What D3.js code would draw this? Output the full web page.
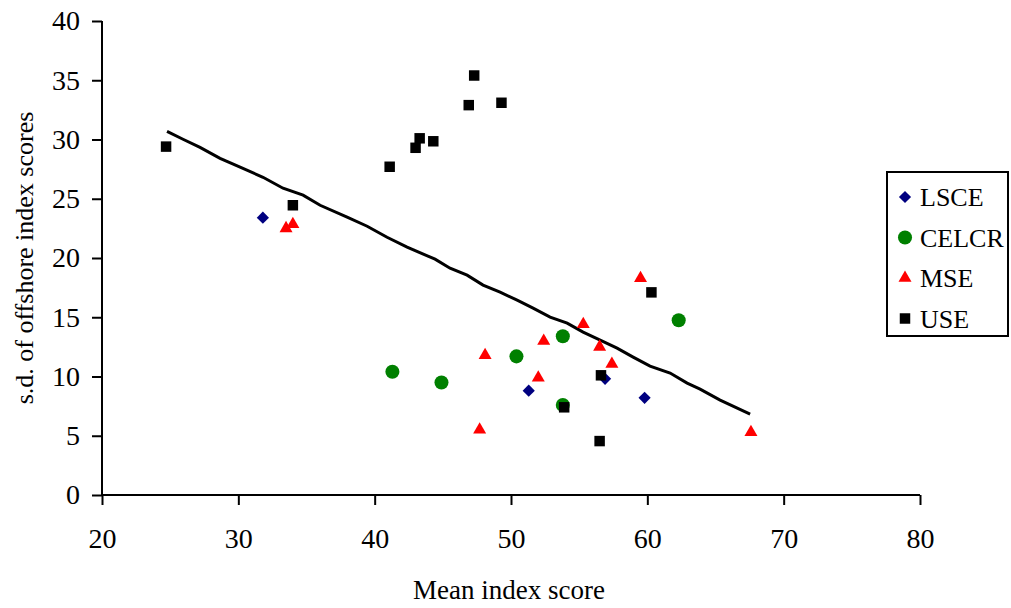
<!DOCTYPE html>
<html>
<head>
<meta charset="utf-8">
<script src="https://cdn.jsdelivr.net/npm/d3@7/dist/d3.min.js"></script>
<style>
  body { margin: 0; background: #fff; }
  text { font-family: "Liberation Serif", "Times New Roman", serif; }
</style>
</head>
<body>
<div id="chart"></div>
<script>
var xTicks = [20, 30, 40, 50, 60, 70, 80];
var yTicks = [0, 5, 10, 15, 20, 25, 30, 35, 40];

var lsceX = [31.8, 51.3, 56.9, 59.8];
var lsceY = [23.4, 8.8, 9.8, 8.2];

var celcrX = [41.3, 44.9, 50.4, 53.8, 62.3, 53.8];
var celcrY = [10.4, 9.5, 11.7, 13.4, 14.75, 7.6];

var mseX = [33.5, 34.0, 48.1, 52.4, 52.0, 47.7, 55.3, 56.5, 57.4, 59.5, 67.6];
var mseY = [22.5, 22.85, 11.8, 13.0, 9.9, 5.5, 14.4, 12.5, 11.05, 18.3, 5.3];

var useX = [24.7, 34.0, 41.1, 43.0, 43.3, 44.3, 46.9, 47.3, 49.3, 60.3, 56.6, 53.9, 56.5];
var useY = [29.4, 24.45, 27.7, 29.3, 30.1, 29.85, 32.9, 35.4, 33.1, 17.1, 10.1, 7.4, 4.55];

// trend line
var trendX = [24.77, 25.94, 27.19, 28.66, 30.13, 31.81, 33.28, 34.75, 36.0, 37.98, 39.45, 40.91, 42.38,
              44.43, 45.53, 46.78, 47.95, 49.2, 50.45, 51.62, 52.87, 54.12, 55.29, 56.54, 57.78, 58.96,
              60.2, 61.67, 62.92, 63.87, 65.34, 67.54];
var trendY = [30.69, 30.02, 29.34, 28.41, 27.66, 26.81, 25.89, 25.30, 24.45, 23.44, 22.68, 21.75, 20.91,
              19.90, 19.14, 18.55, 17.71, 17.12, 16.44, 15.77, 15.01, 14.50, 13.74, 13.07, 12.39, 11.64,
              10.88, 10.29, 9.44, 8.94, 8.01, 6.83];

var series = [
    { name: "LSCE", xs: lsceX, ys: lsceY, color: "#000080", shape: d3.symbolDiamond2, size: 95 },
    { name: "CELCR", xs: celcrX, ys: celcrY, color: "#008000", shape: d3.symbolCircle, size: 155 },
    { name: "MSE", xs: mseX, ys: mseY, color: "#ff0000", shape: d3.symbolTriangle2, size: 121 },
    { name: "USE", xs: useX, ys: useY, color: "#000000", shape: d3.symbolSquare2, size: 140 }
];

var width = 1011;
var height = 608;

var x = d3.scaleLinear().domain([20, 80]).range([102, 920]);
var y = d3.scaleLinear().domain([0, 40]).range([495, 21]);

var svg = d3.select("#chart")
    .append("svg")
    .attr("width", width)
    .attr("height", height);

// axes
var xAxis = svg.append("g")
    .attr("transform", "translate(0," + y(0) + ")")
    .call(d3.axisBottom(x).tickValues(xTicks).tickSize(10).tickPadding(23));
var yAxis = svg.append("g")
    .attr("transform", "translate(" + x(20) + ",0)")
    .call(d3.axisLeft(y).tickValues(yTicks).tickSize(10).tickPadding(12));

[xAxis, yAxis].forEach(function (a) {
    a.select(".domain").attr("stroke", "#000").attr("stroke-width", 2);
    a.selectAll(".tick line").attr("stroke", "#000").attr("stroke-width", 2);
    a.selectAll(".tick text")
        .attr("font-family", "Liberation Serif, Times New Roman, serif")
        .attr("font-size", 28)
        .attr("fill", "#000");
});
xAxis.select(".domain").attr("d", "M" + x(20) + ",0H" + x(80));
yAxis.select(".domain").attr("d", "M0," + y(0) + "V" + y(40));

// trend line
var trend = trendX.map(function (d, i) { return [d, trendY[i]]; });
svg.append("path")
    .datum(trend)
    .attr("fill", "none")
    .attr("stroke", "#000")
    .attr("stroke-width", 3)
    .attr("d", d3.line()
        .x(function (d) { return x(d[0]); })
        .y(function (d) { return y(d[1]); }));

// points
series.forEach(function (s) {
    var pts = s.xs.map(function (d, i) { return [d, s.ys[i]]; });
    svg.append("g").selectAll("path")
        .data(pts)
        .enter().append("path")
        .attr("transform", function (d) { return "translate(" + x(d[0]) + "," + y(d[1]) + ")"; })
        .attr("d", d3.symbol(s.shape, s.size)())
        .attr("fill", s.color);
});

// axis titles
svg.append("text")
    .attr("x", 509)
    .attr("y", 599)
    .attr("text-anchor", "middle")
    .attr("font-size", 27)
    .text("Mean index score");

svg.append("text")
    .attr("transform", "translate(33,258) rotate(-90)")
    .attr("text-anchor", "middle")
    .attr("font-size", 26)
    .text("s.d. of offshore index scores");

// legend
var legend = svg.append("g");
legend.append("rect")
    .attr("x", 887)
    .attr("y", 172)
    .attr("width", 121)
    .attr("height", 164)
    .attr("fill", "#fff")
    .attr("stroke", "#000")
    .attr("stroke-width", 2);

var item = legend.selectAll("g.item")
    .data(series)
    .enter().append("g")
    .attr("class", "item")
    .attr("transform", function (d, i) { return "translate(905," + (197 + i * 40.5) + ")"; });

item.append("path")
    .attr("d", function (d) { return d3.symbol(d.shape, d.size)(); })
    .attr("fill", function (d) { return d.color; });

item.append("text")
    .attr("x", 15)
    .attr("y", 9)
    .attr("font-size", 26)
    .text(function (d) { return d.name; });
</script>
</body>
</html>
